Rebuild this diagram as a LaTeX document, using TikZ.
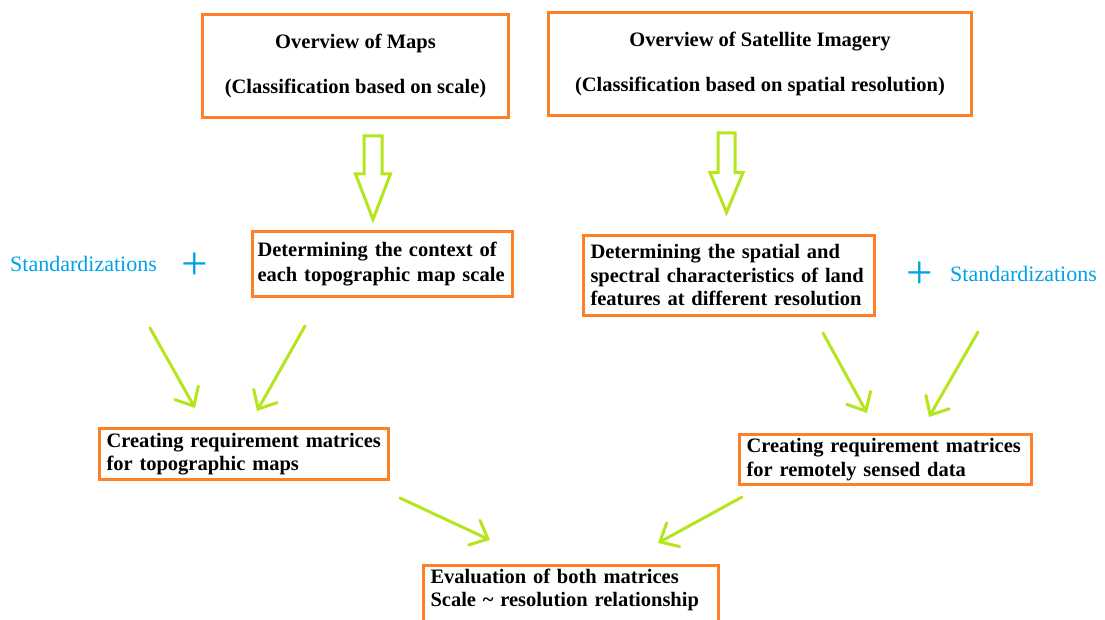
\documentclass[tikz,border=0pt]{standalone}
\usepackage{fontspec}
\setmainfont{Liberation Serif}
\usetikzlibrary{arrows.meta}
\usetikzlibrary{shapes.arrows}

\definecolor{boxorange}{HTML}{FF7F27}
\definecolor{arrowlime}{HTML}{B5E61D}
\definecolor{stdblue}{HTML}{00A2E8}

\tikzset{
  box/.style={draw=boxorange, line width=3pt, fill=white, inner xsep=7pt, inner ysep=4pt,
    align=left, font=\fontsize{20.5}{23.5}\selectfont\bfseries},
  headbox/.style={box, align=center},
  hollow/.style={single arrow, draw=arrowlime, line width=3pt, rotate=-90, anchor=tail,
    inner xsep=0pt, text height=0pt, text depth=0pt, single arrow head indent=0pt},
  feedarrow/.style={draw=arrowlime, line width=3pt, line cap=round,
    -{Straight Barb[length=15pt,width=27pt,line cap=round]}},
  std/.style={text=stdblue, inner sep=0pt, font=\fontsize{22}{24}\selectfont},
  plussign/.style={text=stdblue, inner sep=0pt, font=\fontsize{47}{47}\selectfont}
}

\begin{document}
\begin{tikzpicture}[x=1pt, y=-1pt]

  \useasboundingbox[fill=white] (0,0) rectangle (1105,620);
  \clip (0,0) rectangle (1105,620);

  % top boxes
  \node[headbox, minimum width=306pt, minimum height=103pt] (mapsov) at (355.5,66)
    {Overview of Maps\\[21.5pt] (Classification based on scale)};
  \node[headbox, minimum width=423pt, minimum height=103pt] (satov) at (760,64)
    {Overview of Satellite Imagery\\[21.5pt] (Classification based on spatial resolution)};

  % hollow arrows
  \node[hollow, minimum height=83.5pt, inner ysep=7.5pt, single arrow head extend=8.5pt,
    single arrow tip angle=42] (maparrow) at (373,134.5) {};
  \node[hollow, minimum height=79.5pt, inner ysep=7pt, single arrow head extend=8pt,
    single arrow tip angle=45] (satarrow) at (726.5,131.5) {};

  % middle boxes
  \node[box, inner xsep=5pt, text width=250pt, minimum height=65pt] (context) at (382.5,264)
    {Determining the context of\\[1.5pt] each topographic map scale};
  \node[box, text width=277pt, minimum height=80pt] (spatial) at (729,275.5)
    {Determining the spatial and\\ spectral characteristics of land\\ features at different resolution};

  % standardizations
  \node[std, anchor=base west] (stdleft) at (10,272) {Standardizations};
  \node[plussign] (plusleft) at (195,266) {+};
  \node[plussign] (plusright) at (919.5,275) {+};
  \node[std, anchor=base west] (stdright) at (950,281) {Standardizations};

  % requirement matrices
  \node[box, text width=275pt, minimum height=51pt] (reqtopo) at (244,454)
    {Creating requirement matrices\\ for topographic maps};
  \node[box, text width=278pt, minimum height=50pt] (reqrs) at (885.5,459.5)
    {Creating requirement matrices\\ for remotely sensed data};

  % evaluation
  \node[box, anchor=north, text width=281pt, text depth=40pt] (evaluation) at (571,563.5)
    {Evaluation of both matrices\\ Scale \textasciitilde{} resolution relationship};

  % arrow ends
  \coordinate (stdleft-out) at (150,328);
  \coordinate (context-out) at (305,326);
  \coordinate (reqtopo-in1) at (195,408);
  \coordinate (reqtopo-in2) at (257,411);
  \coordinate (spatial-out) at (823,333);
  \coordinate (stdright-out) at (978,332);
  \coordinate (reqrs-in1) at (867,413);
  \coordinate (reqrs-in2) at (929,417);
  \coordinate (reqtopo-out) at (400,498);
  \coordinate (reqrs-out) at (742,497);
  \coordinate (evaluation-in1) at (490,540);
  \coordinate (evaluation-in2) at (658,543);

  \draw[feedarrow] (stdleft-out) -- (reqtopo-in1);
  \draw[feedarrow] (context-out) -- (reqtopo-in2);
  \draw[feedarrow] (spatial-out) -- (reqrs-in1);
  \draw[feedarrow] (stdright-out) -- (reqrs-in2);
  \draw[feedarrow] (reqtopo-out) -- (evaluation-in1);
  \draw[feedarrow] (reqrs-out) -- (evaluation-in2);

\end{tikzpicture}
\end{document}
